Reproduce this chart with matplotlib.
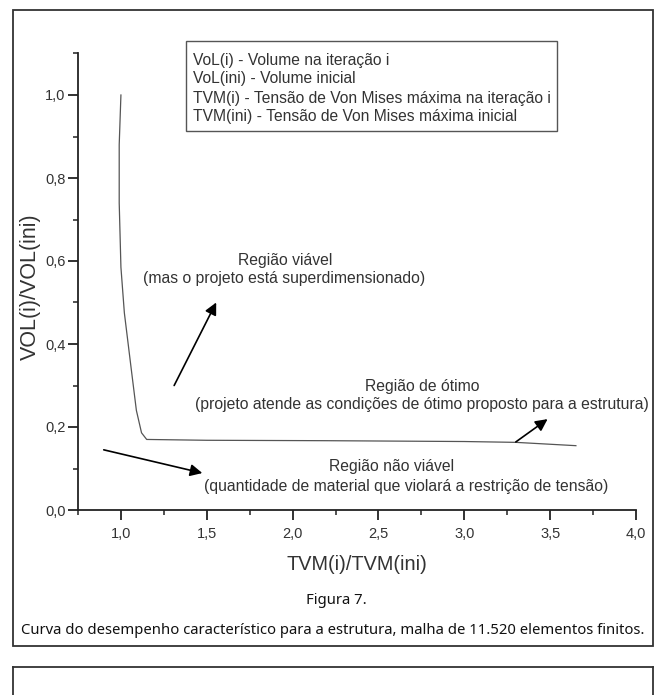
import matplotlib
matplotlib.use("Agg")
import matplotlib.pyplot as plt
from matplotlib.patches import Rectangle
from matplotlib.lines import Line2D
from matplotlib.ticker import MultipleLocator

# ---------------- data ----------------
tvm_ratio = [1.00, 0.99, 0.99, 1.00, 1.02, 1.06, 1.09, 1.12, 1.15, 1.50, 2.20, 3.00, 3.30, 3.65]
vol_ratio = [1.00, 0.88, 0.74, 0.585, 0.475, 0.34, 0.24, 0.186, 0.170, 0.168, 0.167, 0.165, 0.163, 0.155]

x_ticks = [1.0, 1.5, 2.0, 2.5, 3.0, 3.5, 4.0]
x_tick_labels = ["1,0", "1,5", "2,0", "2,5", "3,0", "3,5", "4,0"]
y_ticks = [0.0, 0.2, 0.4, 0.6, 0.8, 1.0]
y_tick_labels = ["0,0", "0,2", "0,4", "0,6", "0,8", "1,0"]

# arrows: (tail x, tail y) -> (head x, head y)
arrow_tails = [(1.31, 0.30), (3.30, 0.164), (0.90, 0.145)]
arrow_heads = [(1.555, 0.50), (3.485, 0.219), (1.474, 0.089)]

legend_lines = [
    "VoL(i) - Volume na iteração i",
    "VoL(ini) - Volume inicial",
    "TVM(i) - Tensão de Von Mises máxima na iteração i",
    "TVM(ini) - Tensão de Von Mises máxima inicial",
]
region_titles = ["Região viável", "Região de ótimo", "Região não viável"]
region_notes = [
    "(mas o projeto está superdimensionado)",
    "(projeto atende as condições de ótimo proposto para a estrutura)",
    "(quantidade de material que violará a restrição de tensão)",
]
x_label = "TVM(i)/TVM(ini)"
y_label = "VOL(i)/VOL(ini)"
fig_title = "Figura 7."
fig_caption = "Curva do desempenho característico para a estrutura, malha de 11.520 elementos finitos."

# ---------------- layout helpers ----------------
W, H = 656, 695
def fx(px):
    return px / W
def fy(py):
    return 1 - py / H

TXT = "#333333"
SANS = ["Liberation Sans", "DejaVu Sans"]

fig = plt.figure(figsize=(W / 100, H / 100), dpi=100)
fig.patch.set_facecolor("white")

ax = fig.add_axes([fx(78), fy(510), fx(636) - fx(78), fy(53.5) - fy(510)])
ax.plot(tvm_ratio, vol_ratio, color="#555555", lw=0.9)
ax.set_xlim(0.75, 4.0)
ax.set_ylim(0.0, 1.1)

for s in ["top", "right"]:
    ax.spines[s].set_visible(False)
for s in ["left", "bottom"]:
    ax.spines[s].set_linewidth(1.3)
    ax.spines[s].set_color("#222222")

ax.set_xticks(x_ticks)
ax.set_xticklabels(x_tick_labels)
ax.set_yticks(y_ticks)
ax.set_yticklabels(y_tick_labels)
ax.xaxis.set_minor_locator(MultipleLocator(0.25))
ax.yaxis.set_minor_locator(MultipleLocator(0.1))
ax.tick_params(which="major", direction="out", length=7, width=1.3, color="#222222",
               labelsize=10.5, labelcolor=TXT)
ax.tick_params(which="minor", direction="out", length=3.5, width=1.1, color="#222222")
ax.tick_params(axis="x", which="major", pad=5)
ax.tick_params(axis="y", which="major", pad=2)
for lab in ax.get_xticklabels() + ax.get_yticklabels():
    lab.set_family(SANS)

ax.set_xlabel(x_label, fontsize=14.3, color=TXT, family=SANS, labelpad=10)
fig.text(fx(30), fy(287), y_label, rotation=90, fontsize=15.5, color=TXT, family=SANS,
         ha="center", va="center")

for (tx, ty), (hx, hy) in zip(arrow_tails, arrow_heads):
    ax.annotate("", xy=(hx, hy), xytext=(tx, ty),
                arrowprops=dict(arrowstyle="-|>", color="black", lw=1.2,
                                mutation_scale=18, shrinkA=0, shrinkB=0))

fig.canvas.draw()
r = fig.canvas.get_renderer()

def fit_text(px, py, s, target_w, family, color, **kw):
    t = fig.text(fx(px), fy(py), s, color=color, family=family, fontsize=10,
                 va="center", **kw)
    w = t.get_window_extent(r).width
    t.set_fontsize(10 * target_w / w)
    return t

# annotation texts (same size for title and note)
note_pos = [(284, 279, 282), (422, 405, 455), (406, 486, 407)]
title_pos = [(285, 260), (422, 387), (392, 467)]
sizes = []
for (px, py, tw), s in zip(note_pos, region_notes):
    t = fit_text(px, py, s, tw, SANS, TXT, ha="center")
    sizes.append(t.get_fontsize())
fs_note = sum(sizes) / len(sizes)
for (px, py), s in zip(title_pos, region_titles):
    fig.text(fx(px), fy(py), s, color=TXT, family=SANS, fontsize=fs_note,
             ha="center", va="center")

# legend box
t3 = fig.text(0, 0, legend_lines[2], family=SANS, fontsize=10)
fs_leg = 10 * 360 / t3.get_window_extent(r).width
t3.remove()
leg_y = [60, 79, 98, 117]
for yy, s in zip(leg_y, legend_lines):
    fig.text(fx(193), fy(yy), s, color=TXT, family=SANS, fontsize=fs_leg,
             ha="left", va="center")
fig.patches.append(Rectangle((fx(186), fy(131)), fx(557) - fx(186), fy(41) - fy(131),
                             transform=fig.transFigure, fill=False, ec="#555555", lw=1.0))

# captions
cap_family = ["Noto Sans", "DejaVu Sans"]
tc = fit_text(333, 630, fig_caption, 624, cap_family, "#111111", ha="center")
fig.text(fx(336), fy(600), fig_title, ha="center", va="center", family=cap_family,
         color="#111111", fontsize=tc.get_fontsize())

# outer frame
fig.patches.append(Rectangle((fx(13), fy(646)), fx(653) - fx(13), fy(10) - fy(646),
                             transform=fig.transFigure, fill=False, ec="#333333", lw=1.3))
# second (cut) frame below
for xs, ys in [([13, 13], [667, 720]), ([13, 653], [667, 667]), ([653, 653], [667, 720])]:
    fig.lines.append(Line2D([fx(v) for v in xs], [fy(v) for v in ys],
                            transform=fig.transFigure, color="#333333", lw=1.3))

fig.savefig("out.png", dpi=100)
